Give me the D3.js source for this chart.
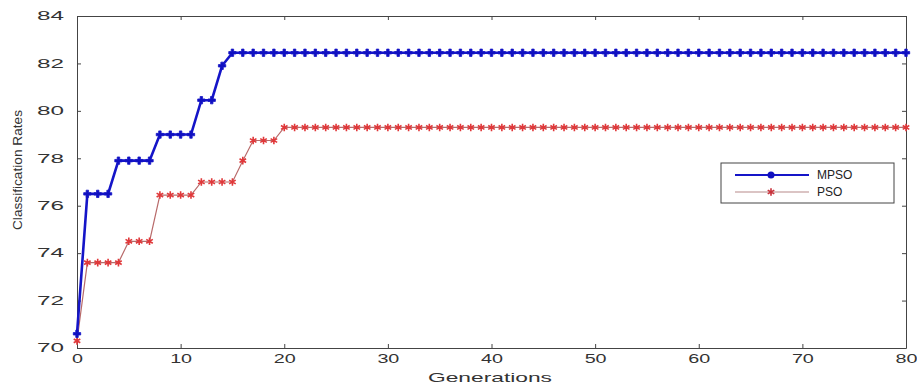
<html>
  <head>
    <script src="https://d3js.org/d3.v7.min.js"></script>
  </head>
  <style type="text/css">
    body { margin: 0; background: #fff; }
    svg { font-family: "Liberation Sans", Arial, sans-serif; }
    .axis path, .axis line { stroke: #444; }
    .axis text { fill: #333; font-size: 12px; }
  </style>
  <body>
    <div id="chart"></div>
  </body>
  <script type="text/javascript">
    var generations = [
      0, 1, 2, 3, 4, 5, 6, 7, 8, 9,
      10, 11, 12, 13, 14, 15, 16, 17, 18, 19,
      20, 21, 22, 23, 24, 25, 26, 27, 28, 29,
      30, 31, 32, 33, 34, 35, 36, 37, 38, 39,
      40, 41, 42, 43, 44, 45, 46, 47, 48, 49,
      50, 51, 52, 53, 54, 55, 56, 57, 58, 59,
      60, 61, 62, 63, 64, 65, 66, 67, 68, 69,
      70, 71, 72, 73, 74, 75, 76, 77, 78, 79,
      80
    ];
    var mpso = [
      70.6, 76.5, 76.5, 76.5, 77.9, 77.9, 77.9, 77.9, 79.0, 79.0,
      79.0, 79.0, 80.45, 80.45, 81.9, 82.45, 82.45, 82.45, 82.45, 82.45,
      82.45, 82.45, 82.45, 82.45, 82.45, 82.45, 82.45, 82.45, 82.45, 82.45,
      82.45, 82.45, 82.45, 82.45, 82.45, 82.45, 82.45, 82.45, 82.45, 82.45,
      82.45, 82.45, 82.45, 82.45, 82.45, 82.45, 82.45, 82.45, 82.45, 82.45,
      82.45, 82.45, 82.45, 82.45, 82.45, 82.45, 82.45, 82.45, 82.45, 82.45,
      82.45, 82.45, 82.45, 82.45, 82.45, 82.45, 82.45, 82.45, 82.45, 82.45,
      82.45, 82.45, 82.45, 82.45, 82.45, 82.45, 82.45, 82.45, 82.45, 82.45,
      82.45
    ];
    var pso = [
      70.3, 73.6, 73.6, 73.6, 73.6, 74.5, 74.5, 74.5, 76.45, 76.45,
      76.45, 76.45, 77.0, 77.0, 77.0, 77.0, 77.9, 78.75, 78.75, 78.75,
      79.3, 79.3, 79.3, 79.3, 79.3, 79.3, 79.3, 79.3, 79.3, 79.3,
      79.3, 79.3, 79.3, 79.3, 79.3, 79.3, 79.3, 79.3, 79.3, 79.3,
      79.3, 79.3, 79.3, 79.3, 79.3, 79.3, 79.3, 79.3, 79.3, 79.3,
      79.3, 79.3, 79.3, 79.3, 79.3, 79.3, 79.3, 79.3, 79.3, 79.3,
      79.3, 79.3, 79.3, 79.3, 79.3, 79.3, 79.3, 79.3, 79.3, 79.3,
      79.3, 79.3, 79.3, 79.3, 79.3, 79.3, 79.3, 79.3, 79.3, 79.3,
      79.3
    ];
    var xTicks = [0, 10, 20, 30, 40, 50, 60, 70, 80];
    var yTicks = [70, 72, 74, 76, 78, 80, 82, 84];

    var width = 917, height = 387;
    var plotLeft = 77, plotRight = 906, plotTop = 16, plotBottom = 348;

    var svg = d3.select("#chart").append("svg")
      .attr("width", width)
      .attr("height", height);

    var x = d3.scaleLinear().domain([0, 80]).range([plotLeft, plotRight]);
    var y = d3.scaleLinear().domain([70, 84]).range([plotBottom, plotTop]);

    /* axes, matlab box style with inward ticks */
    var xAxis = svg.append("g").attr("class", "x axis")
      .attr("transform", `translate(0, ${plotBottom})`)
      .call(d3.axisBottom(x).tickValues(xTicks).tickSizeInner(-4).tickSizeOuter(0).tickPadding(6));
    xAxis.selectAll("text")
      .attr("textLength", d => d < 10 ? 11 : 22)
      .attr("lengthAdjust", "spacingAndGlyphs");

    var yAxis = svg.append("g").attr("class", "y axis")
      .attr("transform", `translate(${plotLeft}, 0)`)
      .call(d3.axisLeft(y).tickValues(yTicks).tickSizeInner(-4).tickSizeOuter(0).tickPadding(13));
    yAxis.selectAll("text")
      .attr("textLength", 27)
      .attr("lengthAdjust", "spacingAndGlyphs");

    svg.append("g").attr("class", "axis")
      .attr("transform", `translate(0, ${plotTop})`)
      .call(d3.axisTop(x).tickValues(xTicks).tickSizeInner(-4).tickSizeOuter(0).tickFormat(""));
    svg.append("g").attr("class", "axis")
      .attr("transform", `translate(${plotRight}, 0)`)
      .call(d3.axisRight(y).tickValues(yTicks).tickSizeInner(-4).tickSizeOuter(0).tickFormat(""));

    /* lines */
    var line = d3.line()
      .x((d, i) => x(generations[i]))
      .y(d => y(d));

    svg.append("path")
      .datum(pso)
      .attr("d", line)
      .attr("fill", "none")
      .attr("stroke", "#b86a6a")
      .attr("stroke-width", 1.2);

    var star = d3.symbol().type(d3.symbolAsterisk).size(40);
    svg.append("g").selectAll("path")
      .data(pso).enter()
      .append("path")
      .attr("transform", (d, i) => `translate(${x(generations[i])}, ${y(d)})`)
      .attr("d", star)
      .attr("fill", "none")
      .attr("stroke", "#e0383a")
      .attr("stroke-width", 1.6);

    svg.append("path")
      .datum(mpso)
      .attr("d", line)
      .attr("fill", "none")
      .attr("stroke", "#1515c8")
      .attr("stroke-width", 2.6);

    var cross = d3.symbol().type(d3.symbolCross).size(30);
    svg.append("g").selectAll("path")
      .data(mpso).enter()
      .append("path")
      .attr("transform", (d, i) => `translate(${x(generations[i])}, ${y(d)})`)
      .attr("d", cross)
      .attr("fill", "#1010c0")
      .attr("stroke", "#1515c8")
      .attr("stroke-width", 0.8);

    /* legend */
    var legend = svg.append("g").attr("transform", "translate(721, 163)");
    legend.append("rect")
      .attr("width", 173).attr("height", 40)
      .attr("fill", "#fff").attr("stroke", "#444").attr("stroke-width", 1);
    legend.append("line")
      .attr("x1", 14).attr("x2", 88).attr("y1", 12).attr("y2", 12)
      .attr("stroke", "#1515c8").attr("stroke-width", 2);
    legend.append("circle")
      .attr("cx", 50).attr("cy", 12).attr("r", 3.5).attr("fill", "#1010c0");
    legend.append("line")
      .attr("x1", 14).attr("x2", 88).attr("y1", 29).attr("y2", 29)
      .attr("stroke", "#b88a8a").attr("stroke-width", 1.2);
    legend.append("path")
      .attr("transform", "translate(50, 29)")
      .attr("d", star)
      .attr("fill", "none").attr("stroke", "#c8303a").attr("stroke-width", 1.6);
    legend.append("text")
      .attr("x", 96).attr("y", 16)
      .attr("font-size", 12).attr("fill", "#222")
      .text("MPSO");
    legend.append("text")
      .attr("x", 96).attr("y", 33)
      .attr("font-size", 12).attr("fill", "#222")
      .text("PSO");

    /* axis titles */
    svg.append("text")
      .attr("x", 490).attr("y", 382)
      .attr("text-anchor", "middle")
      .attr("font-size", 13)
      .attr("fill", "#333")
      .attr("textLength", 124)
      .attr("lengthAdjust", "spacingAndGlyphs")
      .text("Generations");

    svg.append("text")
      .attr("transform", "translate(22, 170) rotate(-90)")
      .attr("text-anchor", "middle")
      .attr("font-size", 12)
      .attr("fill", "#333")
      .attr("textLength", 120)
      .attr("lengthAdjust", "spacingAndGlyphs")
      .text("Classification Rates");
  </script>
</html>
